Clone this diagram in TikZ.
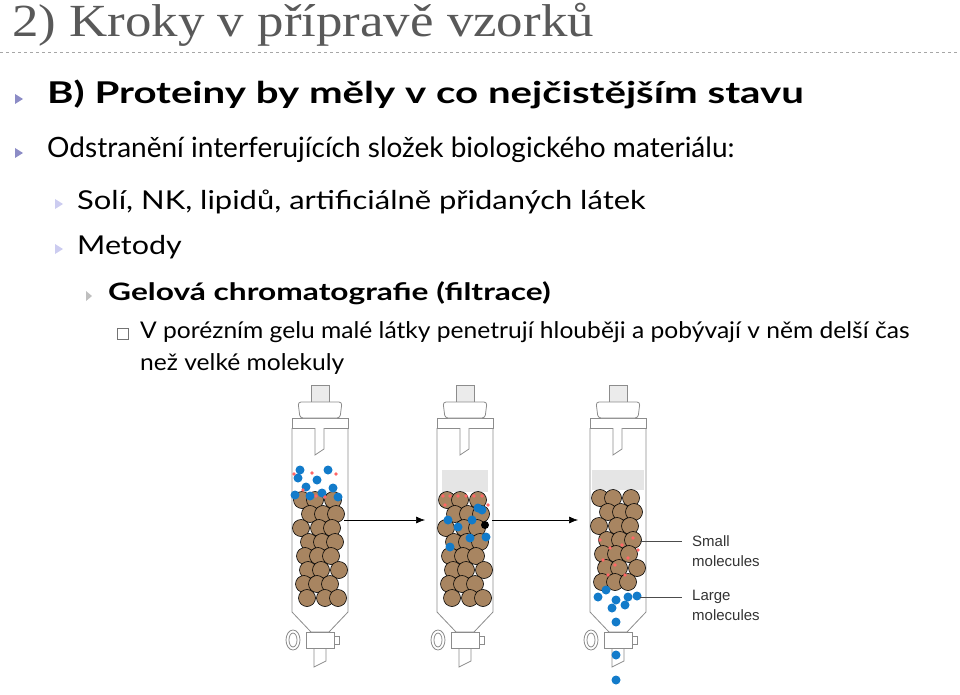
\documentclass[tikz,border=0pt]{standalone}
\usepackage{fontspec}
\usetikzlibrary{arrows.meta}
\setmainfont{Lato}
\newfontfamily\titlefont{Liberation Serif}
\newfontfamily\labfont{Liberation Sans}
\begin{document}
\begin{tikzpicture}[x=1pt,y=-1pt,
  glass/.style={draw=black!45, line width=0.8pt, fill=white},
  bead/.style={fill=brown!70!white!80!black, draw=black, line width=0.6pt},
  blue dot/.style={fill=cyan!60!blue, draw=none},
  pink dot/.style={fill=red!60, draw=none},
  txt/.style={anchor=base west, inner sep=0pt},
  lab/.style={align=left, anchor=north west, inner sep=0pt, text=black!80, font=\labfont\fontsize{15}{20}\selectfont}]
\useasboundingbox (0,0) rectangle (960,695);
% title
\node[txt, text=black!65] (title) at (12,37) {\fontsize{46}{46}\selectfont\titlefont\scalebox{1.15}[1]{2) Kroky v přípravě vzorků}};
\draw[black!35, dashed, line width=0.6pt] (0,52) -- (960,52);
% bullets
\newcommand\tri[3]{\fill[#3] (#1,#2-10) -- (#1+8,#2-5) -- (#1,#2) -- cycle;}
\tri{15}{104}{black!50!blue!45}
\node[txt] (b1) at (47,104) {\fontsize{30}{30}\selectfont\bfseries\scalebox{1.34}[1]{B) Proteiny by měly v co nejčistějším stavu}};
\tri{15}{158}{black!50!blue!45}
\node[txt] (b2) at (47,158) {\fontsize{28}{28}\selectfont Odstranění interferujících složek biologického materiálu:};
\tri{55}{209}{black!30!blue!20}
\node[txt] (b3) at (77,209) {\fontsize{26}{26}\selectfont\scalebox{1.19}[1]{Solí, NK, lipidů, artificiálně přidaných látek}};
\tri{55}{254}{black!30!blue!20}
\node[txt] (b4) at (77,254) {\fontsize{26}{26}\selectfont\scalebox{1.17}[1]{Metody}};
\fill[black!25] (86,291) -- (92,296) -- (86,301) -- cycle;
\node[txt] (b5) at (108,300) {\fontsize{24}{24}\selectfont\bfseries\scalebox{1.32}[1]{Gelová chromatografie (filtrace)}};
\draw[black!55, line width=0.6pt] (117,328) rectangle (128,339);
\node[txt] (b6) at (140,338) {\fontsize{23}{23}\selectfont\scalebox{1.07}[1]{V porézním gelu malé látky penetrují hlouběji a pobývají v něm delší čas}};
\node[txt] (b7) at (140,370) {\fontsize{23}{23}\selectfont\scalebox{1.07}[1]{než velké molekuly}};
% columns
\newcommand\gelglass[1]{%
 \begin{scope}[xshift=#1]
  \draw[glass, fill=black!8] (-9,385) rectangle (9,402);
  \draw[glass] (-28,428) -- (-28,612) -- (-9,632) -- (9,632) -- (28,612) -- (28,428);
  \draw[glass] (-28,418) rectangle (28,428);
  \draw[glass, rounded corners=3pt] (-22,402) -- (-20,418) -- (20,418) -- (22,402) -- cycle;
  \draw[glass] (-5,428) -- (-5,455) -- (4,449) -- (4,428);
  \draw[glass] (-6,648) -- (-6,667) -- (6,661) -- (6,648);
  \draw[glass] (-14,632) rectangle (14,648);
  \draw[glass] (-27,640) ellipse (7 and 10);
  \draw[glass] (-27,640) ellipse (4 and 7);
  \draw[glass] (14,636) rectangle (19,644);
 \end{scope}}
\newcommand\beads[3]{% xcenter, ytop, rows
 \foreach \r in {0,...,#3} {
   \pgfmathsetmacro\off{mod(\r,2)==0 ? -3 : 3}
   \foreach \c in {-14,0,14} {
     \fill[bead] ({#1+\c+\off+mod(\r*7+\c+20,5)-2},{#2+\r*14+8}) circle (8.5);
   }}}
% column 1
\gelglass{320}
\beads{320}{492}{7}
\foreach \x/\y in {298/478,306/487,317/480,328/470,333/488,300/470,322/493,310/496,338/497,295/495}
  \fill[blue dot] (\x,\y) circle (4.5);
\foreach \x/\y in {294/474,312/473,336/474,303/490,325/497,316/496}
  \fill[pink dot] (\x,\y) circle (1.8);
% column 2
\gelglass{465}
\fill[black!10] (442,470) rectangle (488,492);
\beads{465}{492}{7}
\foreach \x/\y in {448/520,458/527,472/520,482/510,486/537,450/547,470/538,478/508}
  \fill[blue dot] (\x,\y) circle (4.5);
\fill[black] (485,525) circle (4);
\foreach \x/\y in {443/496,450/496,458/496,466/496,474/496,482/496,488/505,445/505}
  \fill[pink dot] (\x,\y) circle (1.8);
% column 3
\gelglass{618}
\fill[black!10] (592,470) rectangle (644,490);
\beads{618}{490}{6}
\foreach \x/\y in {600/540,610/548,622/545,633/538,603/560,615/565,628/558,638/550,608/575,625/575}
  \fill[pink dot] (\x,\y) circle (1.8);
\foreach \x/\y in {598/597,606/590,616/600,628/597,637/596,612/608,625/605}
  \fill[blue dot] (\x,\y) circle (4.5);
\foreach \y in {622,655,680}
  \fill[blue dot] (616,\y) circle (4.5);
% arrows
\coordinate (a1s) at (344,520); \coordinate (a1e) at (425,520);
\coordinate (a2s) at (492,520); \coordinate (a2e) at (578,520);
\draw[-{Latex[length=9pt,width=7pt]}, line width=0.6pt] (a1s) -- (a1e);
\draw[-{Latex[length=9pt,width=7pt]}, line width=0.6pt] (a2s) -- (a2e);
% labels
\node[lab] (small) at (692,535) {Small\\molecules};
\node[lab] (large) at (692,590) {Large\\molecules};
\coordinate (sp) at (640,541); \coordinate (lp) at (640,597);
\draw[black!70, line width=0.6pt] (sp) -- ([xshift=-10pt]small.west |- sp);
\draw[black!70, line width=0.6pt] (lp) -- ([xshift=-10pt]large.west |- lp);
\end{tikzpicture}
\end{document}
